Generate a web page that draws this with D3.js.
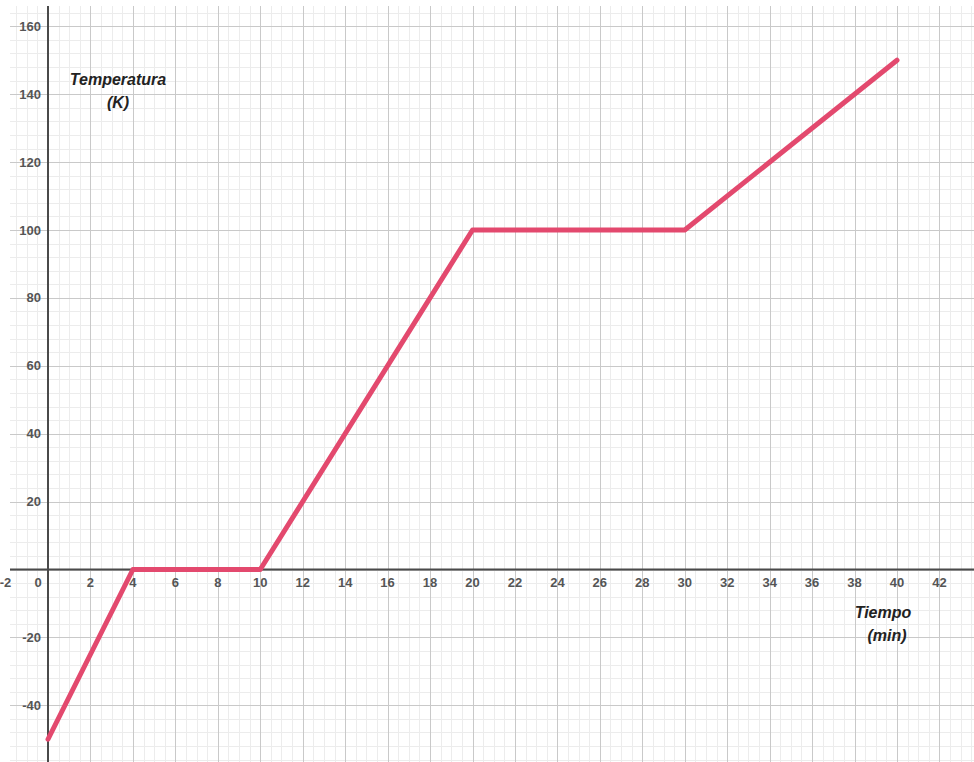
<!DOCTYPE html>
<html>
<head>
<meta charset="utf-8">
<script src="https://cdn.jsdelivr.net/npm/d3@7"></script>
<style>
    html, body { margin: 0; padding: 0; background: #fff; }
    svg { display: block; }
</style>
</head>
<body>
<div id="chart"></div>
<script>
const WIDTH = 974;
const HEIGHT = 762;

// visible graph area (the grid), origin position
const VIEW = { left: 10, top: 6, right: 974, bottom: 762 };
const ORIGIN = { x: 48, y: 569.5 };
const PX_PER_X = 21.225;
const PX_PER_Y = 3.395;

// data
const tiempo = [0, 4, 10, 20, 30, 40];
const temperatura = [-50, 0, 0, 100, 100, 150];

const xTicks = [-2, 0, 2, 4, 6, 8, 10, 12, 14, 16, 18, 20, 22, 24, 26, 28, 30, 32, 34, 36, 38, 40, 42, 44];
const yTicks = [-40, -20, 20, 40, 60, 80, 100, 120, 140, 160];

const xTitle = ['Tiempo', '(min)'];
const yTitle = ['Temperatura', '(K)'];

const x = d3.scaleLinear()
    .domain([(VIEW.left - ORIGIN.x) / PX_PER_X, (VIEW.right - ORIGIN.x) / PX_PER_X])
    .range([VIEW.left, VIEW.right]);
const y = d3.scaleLinear()
    .domain([(ORIGIN.y - VIEW.bottom) / PX_PER_Y, (ORIGIN.y - VIEW.top) / PX_PER_Y])
    .range([VIEW.bottom, VIEW.top]);

const svg = d3.select('#chart').append('svg')
    .attr('width', WIDTH)
    .attr('height', HEIGHT);

svg.append('defs').append('clipPath')
    .attr('id', 'view')
    .append('rect')
    .attr('x', VIEW.left)
    .attr('y', VIEW.top)
    .attr('width', VIEW.right - VIEW.left)
    .attr('height', VIEW.bottom - VIEW.top);

const grid = svg.append('g').attr('clip-path', 'url(#view)');

/*minor grid: 0.5 in x, 4 in y*/
const [x0, x1] = x.domain();
const [y0, y1] = y.domain();
const minorX = d3.range(Math.ceil(x0 * 2) / 2, x1, 0.5);
const minorY = d3.range(Math.ceil(y0 / 4) * 4, y1, 4);
const majorX = d3.range(Math.ceil(x0 / 2) * 2, x1, 2);
const majorY = d3.range(Math.ceil(y0 / 20) * 20, y1, 20);

grid.selectAll('.minor-x').data(minorX).join('line')
    .attr('x1', d => Math.round(x(d)) + 0.5).attr('x2', d => Math.round(x(d)) + 0.5)
    .attr('y1', VIEW.top).attr('y2', VIEW.bottom)
    .attr('stroke', '#ececec').attr('stroke-width', 1);
grid.selectAll('.minor-y').data(minorY).join('line')
    .attr('y1', d => Math.round(y(d)) + 0.5).attr('y2', d => Math.round(y(d)) + 0.5)
    .attr('x1', VIEW.left).attr('x2', VIEW.right)
    .attr('stroke', '#ececec').attr('stroke-width', 1);
grid.selectAll('.major-x').data(majorX).join('line')
    .attr('x1', d => Math.round(x(d)) + 0.5).attr('x2', d => Math.round(x(d)) + 0.5)
    .attr('y1', VIEW.top).attr('y2', VIEW.bottom)
    .attr('stroke', '#c9c9c9').attr('stroke-width', 1);
grid.selectAll('.major-y').data(majorY).join('line')
    .attr('y1', d => Math.round(y(d)) + 0.5).attr('y2', d => Math.round(y(d)) + 0.5)
    .attr('x1', VIEW.left).attr('x2', VIEW.right)
    .attr('stroke', '#c9c9c9').attr('stroke-width', 1);

// axes
grid.append('line')
    .attr('x1', VIEW.left).attr('x2', VIEW.right)
    .attr('y1', y(0)).attr('y2', y(0))
    .attr('stroke', '#4a4a4a').attr('stroke-width', 2);
grid.append('line')
    .attr('x1', x(0)).attr('x2', x(0))
    .attr('y1', VIEW.top).attr('y2', VIEW.bottom)
    .attr('stroke', '#4a4a4a').attr('stroke-width', 2);

// tick labels
const labelStyle = sel => sel
    .attr('font-family', 'Liberation Sans, Arial, sans-serif')
    .attr('font-size', 13)
    .attr('font-weight', 'bold')
    .attr('fill', '#555');

svg.append('g').selectAll('text').data(xTicks).join('text')
    .call(labelStyle)
    .attr('x', d => d === 0 ? x(0) - 10 : x(d))
    .attr('y', y(0) + 17)
    .attr('text-anchor', 'middle')
    .text(d => d);

svg.append('g').selectAll('text').data(yTicks).join('text')
    .call(labelStyle)
    .attr('x', x(0) - 7)
    .attr('y', d => y(d) + 4.5)
    .attr('text-anchor', 'end')
    .text(d => d);

// line
const line = d3.line()
    .x(d => x(d[0]))
    .y(d => y(d[1]));

grid.append('path')
    .datum(d3.zip(tiempo, temperatura))
    .attr('d', line)
    .attr('fill', 'none')
    .attr('stroke', '#e3496e')
    .attr('stroke-width', 5)
    .attr('stroke-linejoin', 'round')
    .attr('stroke-linecap', 'round');

// axis titles
const titleStyle = sel => sel
    .attr('font-family', 'Liberation Sans, Arial, sans-serif')
    .attr('font-size', 16)
    .attr('font-weight', 'bold')
    .attr('font-style', 'italic')
    .attr('fill', '#222')
    .attr('text-anchor', 'middle');

svg.append('g').selectAll('text').data(yTitle).join('text')
    .call(titleStyle)
    .attr('x', 118)
    .attr('y', (d, i) => 85 + i * 23)
    .text(d => d);

svg.append('g').selectAll('text').data(xTitle).join('text')
    .call(titleStyle)
    .attr('x', (d, i) => 883 + i * 4)
    .attr('y', (d, i) => 618 + i * 23)
    .text(d => d);
</script>
</body>
</html>
